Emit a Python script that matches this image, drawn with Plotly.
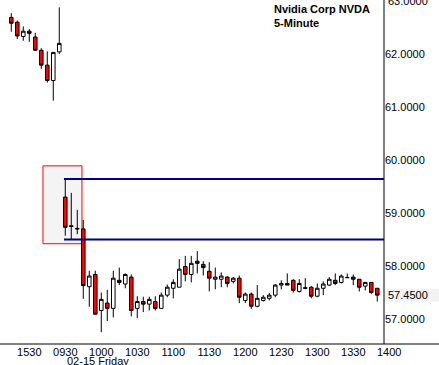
import plotly.graph_objects as go

times = ["1515", "1520", "1525", "1530", "1535", "1540", "1545", "1550", "1555",
         "0930", "0935", "0940", "0945", "0950", "0955", "1000", "1005", "1010", "1015",
         "1020", "1025", "1030", "1035", "1040", "1045", "1050", "1055", "1100", "1105",
         "1110", "1115", "1120", "1125", "1130", "1135", "1140", "1145", "1150", "1155",
         "1200", "1205", "1210", "1215", "1220", "1225", "1230", "1235", "1240", "1245",
         "1250", "1255", "1300", "1305", "1310", "1315", "1320", "1325", "1330", "1335",
         "1340", "1345", "1350"]
opens = [62.69, 62.60, 62.33, 62.43, 62.32, 62.07, 61.79, 61.50, 62.04,
         59.30, 58.76, 58.71, 58.70, 57.61, 57.84, 57.16, 57.30, 57.20, 57.73,
         57.66, 57.79, 57.20, 57.33, 57.28, 57.33, 57.20, 57.45, 57.58, 57.60,
         57.99, 57.84, 58.09, 58.03, 57.90, 57.75, 57.75, 57.79, 57.71, 57.77,
         57.35, 57.47, 57.24, 57.35, 57.39, 57.45, 57.64, 57.67, 57.73, 57.52,
         57.59, 57.60, 57.43, 57.58, 57.64, 57.73, 57.69, 57.785, 57.79, 57.75,
         57.62, 57.69, 57.58]
highs = [62.77, 62.63, 62.52, 62.47, 62.40, 62.11, 62.05, 62.03, 62.88,
         59.64, 59.38, 59.06, 58.87, 57.91, 57.91, 57.50, 57.55, 57.91, 57.97,
         57.86, 57.84, 57.43, 57.42, 57.42, 57.43, 57.50, 57.65, 57.75, 58.13,
         58.19, 58.19, 58.28, 58.09, 58.07, 57.97, 57.88, 57.81, 57.79, 57.82,
         57.50, 57.50, 57.64, 57.45, 57.49, 57.66, 57.73, 57.86, 57.75, 57.75,
         57.77, 57.62, 57.67, 57.71, 57.79, 57.86, 57.84, 57.86, 57.84, 57.75,
         57.69, 57.69, 57.58]
lows = [62.42, 62.28, 62.25, 62.23, 62.07, 61.72, 61.46, 61.12, 62.00,
        58.57, 58.49, 58.60, 57.38, 57.23, 57.09, 56.75, 56.96, 57.03, 57.64,
        57.58, 57.05, 57.02, 57.13, 57.16, 57.16, 57.20, 57.41, 57.39, 57.60,
        57.71, 57.69, 57.86, 57.82, 57.52, 57.56, 57.60, 57.60, 57.67, 57.30,
        57.30, 57.19, 57.22, 57.33, 57.35, 57.41, 57.56, 57.64, 57.50, 57.50,
        57.56, 57.39, 57.41, 57.45, 57.62, 57.64, 57.67, 57.77, 57.64, 57.52,
        57.54, 57.47, 57.33]
closes = [62.58, 62.34, 62.43, 62.39, 62.07, 61.79, 61.50, 62.03, 62.20,
          58.73, 58.745, 58.70, 57.63, 57.81, 57.09, 57.37, 57.20, 57.77, 57.69,
          57.84, 57.16, 57.33, 57.28, 57.37, 57.20, 57.45, 57.60, 57.69, 57.94,
          57.84, 58.05, 58.05, 57.97, 57.77, 57.79, 57.81, 57.67, 57.77, 57.41,
          57.47, 57.24, 57.39, 57.41, 57.45, 57.64, 57.67, 57.64, 57.54, 57.67,
          57.58, 57.43, 57.58, 57.66, 57.75, 57.67, 57.81, 57.78, 57.75, 57.60,
          57.69, 57.50, 57.45]

tick_labels = ["1530", "0930", "1000", "1030", "1100", "1130", "1200", "1230", "1300", "1330"]
extra_tick = "1400"
price_ticks = [57, 58, 59, 60, 61, 62]
top_price_tick = 63
last_price = 57.45
level_high = 59.64
level_low = 58.50
box_range = (58.42, 59.89)
title_lines = ["Nvidia Corp NVDA", "5-Minute"]
date_label = "02-15 Friday"

FONT = "Liberation Sans, Arial, sans-serif"
x = list(range(len(times)))
x_range = [-1.88, 62.12]
y_range = [56.528, 63.019]

fig = go.Figure()
fig.add_trace(go.Candlestick(
    x=x, open=opens, high=highs, low=lows, close=closes,
    increasing=dict(fillcolor="white", line=dict(color="black", width=1)),
    decreasing=dict(fillcolor="#ff0000", line=dict(color="black", width=1)),
    whiskerwidth=0, hoverinfo="skip", showlegend=False,
))

today_start = times.index("0930")
tickvals = []
for t in tick_labels:
    if t == "1530":
        tickvals.append(times.index(t))
    else:
        tickvals.append(times.index(t, today_start))

fig.update_layout(
    width=439, height=365,
    margin=dict(l=0, r=55, t=0, b=21),
    paper_bgcolor="white", plot_bgcolor="white",
    boxgap=0.15,
    font=dict(family=FONT, size=11, color="black"),
    xaxis=dict(range=x_range, tickvals=tickvals, ticktext=tick_labels,
               showgrid=False, zeroline=False, showline=False, ticks="",
               rangeslider=dict(visible=False), tickfont=dict(size=11)),
    yaxis=dict(range=y_range, side="right", tickvals=price_ticks,
               tickformat=".4f", showgrid=False, zeroline=False,
               showline=False, ticks="", tickfont=dict(size=11)),
)

# red reference box
fig.add_shape(type="rect", xref="x", yref="y",
              x0=(43 - 11.3) / 6, x1=(82 - 11.3) / 6, y0=box_range[0], y1=box_range[1],
              fillcolor="#f4f4f4", line=dict(color="#ff0000", width=1), layer="below")
# blue levels
for lv in (level_high, level_low):
    fig.add_shape(type="line", xref="x", yref="y", x0=8.78, x1=x_range[1],
                  y0=lv, y1=lv, line=dict(color="#000080", width=2))

# axis lines
fig.add_shape(type="line", xref="paper", yref="paper", x0=1, x1=1, y0=0, y1=1,
              line=dict(color="black", width=1))
fig.add_shape(type="line", xref="paper", yref="paper", x0=0, x1=439 / 384, y0=0, y1=0,
              line=dict(color="black", width=1))

# last price highlight
fig.add_shape(type="rect", xref="paper", yref="y", x0=1.002, x1=439 / 384,
              y0=last_price - 0.12, y1=last_price + 0.12,
              fillcolor="#f2f2f2", line=dict(width=0), layer="below")
fig.add_annotation(xref="paper", yref="y", x=1, y=last_price, xanchor="left",
                   xshift=2, text=f"{last_price:.4f}", showarrow=False,
                   font=dict(size=11, color="black"))
# top price label (clipped at the top edge)
fig.add_annotation(xref="paper", yref="y", x=1, y=top_price_tick, xanchor="left",
                   yanchor="middle", xshift=2, text=f"{top_price_tick:.4f}",
                   showarrow=False, font=dict(size=11, color="black"))

# extra tick label beyond plot
span = x_range[1] - x_range[0]
fig.add_annotation(xref="paper", yref="paper", x=(63 - x_range[0]) / span, y=0,
                   yshift=-8, xanchor="center", yanchor="middle", text=extra_tick,
                   showarrow=False, font=dict(size=11))
fig.add_annotation(xref="paper", yref="paper", x=(today_start - x_range[0]) / span,
                   y=0, yshift=-17, xanchor="left", yanchor="middle",
                   text=date_label, showarrow=False, font=dict(size=11))

fig.add_annotation(xref="paper", yref="paper", x=272 / 384, y=1, yshift=-1,
                   xanchor="left", yanchor="top", align="left",
                   text="<b>" + "<br>".join(title_lines) + "</b>", showarrow=False,
                   font=dict(size=11, family=FONT))

fig.write_html("out.html")
